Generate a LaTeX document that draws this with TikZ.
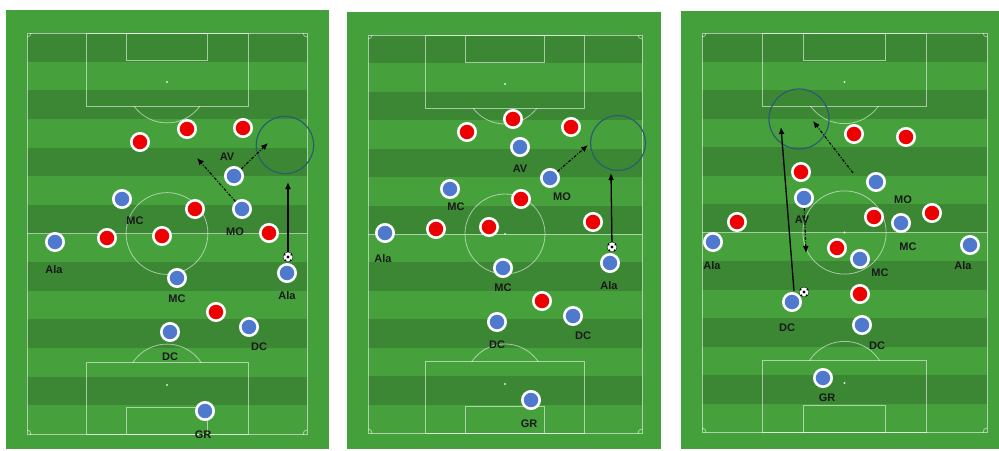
\documentclass[tikz,border=0pt]{standalone}
\usepackage{fontspec}
\setmainfont{Liberation Sans}
\usetikzlibrary{arrows.meta,calc}
\definecolor{pitchgreen}{RGB}{68,160,58}
\definecolor{stripedark}{RGB}{59,135,52}
\definecolor{stripelight}{RGB}{70,161,60}
\definecolor{playerred}{RGB}{236,0,0}
\definecolor{playerblue}{RGB}{78,121,205}
\definecolor{zonecol}{RGB}{45,92,112}
\definecolor{labelcol}{RGB}{25,25,25}
\tikzset{
  pline/.style={draw=white, draw opacity=0.55, line width=0.8pt},
  redp/.style={circle, fill=playerred, draw=white, line width=2.6pt, minimum size=17.4pt, inner sep=0pt},
  bluep/.style={circle, fill=playerblue, draw=white, line width=2.6pt, minimum size=17.4pt, inner sep=0pt},
  lbl/.style={font=\bfseries\fontsize{11}{12}\selectfont, text=labelcol, inner sep=0pt},
  zone/.style={circle, draw=zonecol, line width=1.2pt, inner sep=0pt},
  ballnode/.style={circle, fill=white, draw=black, line width=0.4pt, minimum size=10pt, inner sep=0pt},
  runarrow/.style={draw=black, line width=1.3pt, -{Latex[length=7pt,width=6pt]}},
  passarrow/.style={draw=black, line width=1.1pt, dash pattern=on 3pt off 1.6pt on 1pt off 1.6pt, -{Latex[length=7pt,width=6pt]}}
}
\newcommand{\pitchfield}[4]{%
  \pgfmathsetmacro{\pL}{#1}\pgfmathsetmacro{\pT}{#2}%
  \pgfmathsetmacro{\pR}{#3}\pgfmathsetmacro{\pB}{#4}%
  \pgfmathsetmacro{\pC}{(#1+#3)/2}\pgfmathsetmacro{\pM}{(#2+#4)/2}%
  \pgfmathsetmacro{\pS}{(#4-#2)/14}\pgfmathsetmacro{\pW}{#3-#1}%
  \pgfmathsetmacro{\bh}{0.289*\pW}\pgfmathsetmacro{\gh}{0.145*\pW}%
  \pgfmathsetmacro{\cr}{0.146*\pW}%
  \fill[stripelight] (\pL,\pT) rectangle (\pR,\pB);
  \foreach \i in {0,2,...,12}{\fill[stripedark] (\pL,{\pT+\i*\pS}) rectangle (\pR,{\pT+(\i+1)*\pS});}
  \draw[pline] (\pL,\pT) rectangle (\pR,\pB);
  \draw[pline] (\pL,\pM) -- (\pR,\pM);
  \draw[pline] (\pC,\pM) circle[radius=\cr pt];
  \fill[white, opacity=0.8] (\pC,\pM) circle[radius=1.2pt];
  \draw[pline] ({\pC-\bh},\pT) rectangle ({\pC+\bh},{\pT+73});
  \draw[pline] ({\pC-\gh},\pT) rectangle ({\pC+\gh},{\pT+27});
  \fill[white, opacity=0.8] (\pC,{\pT+49}) circle[radius=1.2pt];
  \draw[pline] ({\pC-\bh},\pB) rectangle ({\pC+\bh},{\pB-72});
  \draw[pline] ({\pC-\gh},\pB) rectangle ({\pC+\gh},{\pB-27});
  \fill[white, opacity=0.8] (\pC,{\pB-49}) circle[radius=1.2pt];
  \begin{scope}
    \clip (\pL,{\pT+73}) rectangle (\pR,\pM);
    \draw[pline] (\pC,{\pT+49}) circle[radius=\cr pt];
  \end{scope}
  \begin{scope}
    \clip (\pL,{\pB-72}) rectangle (\pR,\pM);
    \draw[pline] (\pC,{\pB-49}) circle[radius=\cr pt];
  \end{scope}
  \begin{scope}
    \clip (\pL,\pT) rectangle (\pR,\pB);
    \draw[pline] (\pL,\pT) circle[radius=4pt];
    \draw[pline] (\pR,\pT) circle[radius=4pt];
    \draw[pline] (\pL,\pB) circle[radius=4pt];
    \draw[pline] (\pR,\pB) circle[radius=4pt];
  \end{scope}
}
\newcommand{\soccerball}[2]{%
  \node[ballnode] (#1) at (#2) {};
  \fill[black] (#2) circle[radius=1.6pt];
  \fill[black] ($(#2)+(-3.2,-2.2)$) circle[radius=0.9pt];
  \fill[black] ($(#2)+(3.2,-2.2)$) circle[radius=0.9pt];
  \fill[black] ($(#2)+(-2.4,3.2)$) circle[radius=0.9pt];
  \fill[black] ($(#2)+(2.4,3.2)$) circle[radius=0.9pt];
}
\begin{document}
\begin{tikzpicture}[x=1pt, y=-1pt]
\useasboundingbox (0,0) rectangle (999,450);
\fill[white] (0,0) rectangle (999,450);
% ================= pitch 1 =================
\fill[pitchgreen] (6,10) rectangle (329,449);
\pitchfield{27}{33}{307}{434}
% ================= pitch 2 =================
\fill[pitchgreen] (347,12) rectangle (661,449);
\pitchfield{368}{35}{642}{433}
% ================= pitch 3 =================
\fill[pitchgreen] (681,11) rectangle (999,449);
\pitchfield{702}{33}{987}{432}

% ---------- pitch 1 content ----------
\node[zone, minimum size=57.4pt] (z1) at (285,145) {};
\foreach \n/\p in {r11/{140,142}, r12/{187,129}, r13/{243,128}, r14/{195,209}, r15/{107,238}, r16/{162,236}, r17/{269,233}, r18/{216,312}}
  \node[redp] (\n) at (\p) {};
\node[bluep] (b1av) at (234,176) {};
\node[bluep] (b1mc) at (122,199) {};
\node[bluep] (b1mo) at (242,209) {};
\node[bluep] (b1al) at (55,242) {};
\node[bluep] (b1mc2) at (177,278) {};
\node[bluep] (b1ar) at (287,273) {};
\node[bluep] (b1dc) at (170,332) {};
\node[bluep] (b1dc2) at (249,327) {};
\node[bluep] (b1gr) at (205,411) {};
\node[lbl] (l1av) at (227,157) {AV};
\node[lbl] (l1mc) at (135,221) {MC};
\node[lbl] (l1mo) at (235,232) {MO};
\node[lbl] (l1al) at (54,270) {Ala};
\node[lbl] (l1mc2) at (177,299) {MC};
\node[lbl] (l1ar) at (287,296) {Ala};
\node[lbl] (l1dc) at (170,357) {DC};
\node[lbl] (l1dc2) at (259,347) {DC};
\node[lbl] (l1gr) at (203,435) {GR};
\soccerball{ball1}{288,257}
\coordinate (t1) at (288,182);
\coordinate (d1a) at (197,158);
\coordinate (d1b) at (268,143);
\draw[runarrow] (ball1) -- (t1);
\draw[passarrow] (b1mo) -- (d1a);
\draw[passarrow] (b1av) -- (d1b);

% ---------- pitch 2 content ----------
\node[zone, minimum size=55pt] (z2) at (618,143) {};
\foreach \n/\p in {r21/{513,119}, r22/{467,132}, r23/{571,127}, r24/{521,199}, r25/{436,229}, r26/{489,227}, r27/{593,222}, r28/{542,301}}
  \node[redp] (\n) at (\p) {};
\node[bluep] (b2av) at (520,147) {};
\node[bluep] (b2mo) at (550,178) {};
\node[bluep] (b2mc) at (450,189) {};
\node[bluep] (b2al) at (385,233) {};
\node[bluep] (b2mc2) at (503,268) {};
\node[bluep] (b2ar) at (610,263) {};
\node[bluep] (b2dc) at (497,322) {};
\node[bluep] (b2dc2) at (573,316) {};
\node[bluep] (b2gr) at (531,400) {};
\node[lbl] (l2av) at (520,169) {AV};
\node[lbl] (l2mo) at (562,197) {MO};
\node[lbl] (l2mc) at (456,207) {MC};
\node[lbl] (l2al) at (383,259) {Ala};
\node[lbl] (l2mc2) at (503,288) {MC};
\node[lbl] (l2ar) at (609,286) {Ala};
\node[lbl] (l2dc) at (497,345) {DC};
\node[lbl] (l2dc2) at (583,336) {DC};
\node[lbl] (l2gr) at (529,424) {GR};
\soccerball{ball2}{612,247}
\coordinate (t2) at (611,173);
\coordinate (d2a) at (588,145);
\draw[runarrow] (ball2) -- (t2);
\draw[passarrow] (b2mo) -- (d2a);

% ---------- pitch 3 content ----------
\node[zone, minimum size=60pt] (z3) at (799,119) {};
\foreach \n/\p in {r31/{854,134}, r32/{906,137}, r33/{801,172}, r34/{737,222}, r35/{874,217}, r36/{932,213}, r37/{837,248}, r38/{860,294}}
  \node[redp] (\n) at (\p) {};
\node[bluep] (b3mo) at (876,182) {};
\node[bluep] (b3av) at (804,198) {};
\node[bluep] (b3mc) at (901,223) {};
\node[bluep] (b3al) at (713,242) {};
\node[bluep] (b3ar) at (970,245) {};
\node[bluep] (b3mc2) at (860,259) {};
\node[bluep] (b3dc) at (792,302) {};
\node[bluep] (b3dc2) at (862,325) {};
\node[bluep] (b3gr) at (823,378) {};
\node[lbl] (l3mo) at (903,200) {MO};
\node[lbl] (l3av) at (802,220) {AV};
\node[lbl] (l3mc) at (908,247) {MC};
\node[lbl] (l3al) at (712,266) {Ala};
\node[lbl] (l3ar) at (963,266) {Ala};
\node[lbl] (l3mc2) at (880,273) {MC};
\node[lbl] (l3dc) at (787,328) {DC};
\node[lbl] (l3dc2) at (877,346) {DC};
\node[lbl] (l3gr) at (827,398) {GR};
\soccerball{ball3}{804,292}
\coordinate (s3) at (794,291);
\coordinate (t3) at (781,127);
\coordinate (d3s) at (853,173);
\coordinate (d3a) at (813,121);
\coordinate (d3b) at (806,253);
\draw[runarrow] (s3) -- (t3);
\draw[passarrow] (d3s) -- (d3a);
\draw[passarrow] (b3av) -- (d3b);
\end{tikzpicture}
\end{document}
